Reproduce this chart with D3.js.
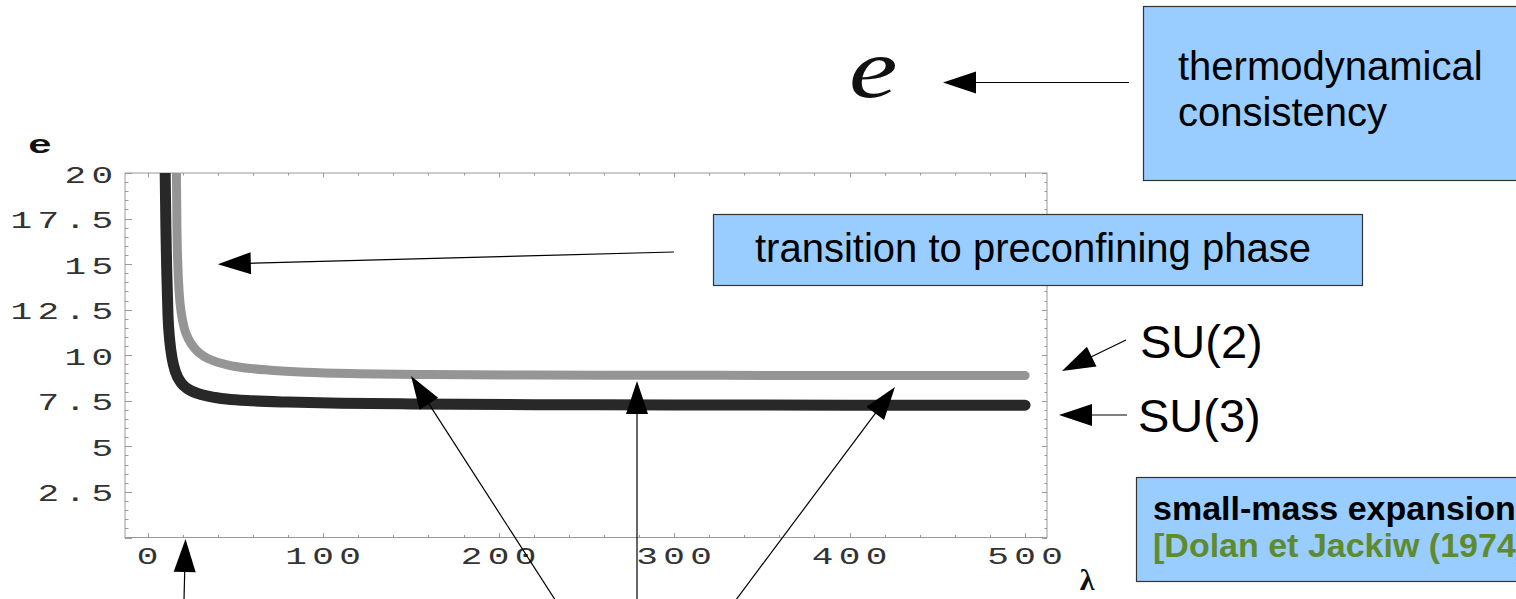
<!DOCTYPE html>
<html><head><meta charset="utf-8">
<script src="https://cdn.jsdelivr.net/npm/d3@7"></script>
<style>html,body{margin:0;padding:0;background:#fff;} svg{display:block;background:#fff}</style>
</head><body>
<svg id="c" width="1516" height="599"></svg>
<script>
// ---- data ----
const lambdaSU2 = [16.4, 16.7, 17.2, 18.0, 19.2, 21, 23.5, 27, 32, 38, 46, 56, 70, 90, 120, 160, 220, 300, 400, 500];
const eSU2      = [20, 17, 15, 13.4, 12.3, 11.45, 10.85, 10.35, 9.95, 9.68, 9.46, 9.3, 9.18, 9.07, 8.99, 8.94, 8.91, 8.9, 8.89, 8.89];
const lambdaSU3 = [10.0, 10.4, 10.9, 11.6, 12.6, 14, 16, 19, 23, 28, 35, 45, 60, 80, 110, 150, 220, 300, 400, 500];
const eSU3      = [20, 17, 14.6, 12.2, 10.8, 9.8, 9.05, 8.5, 8.15, 7.92, 7.75, 7.6, 7.5, 7.43, 7.37, 7.33, 7.29, 7.27, 7.26, 7.26];
const xTickValues = [0, 100, 200, 300, 400, 500];
const xTickLabels = ["0", "100", "200", "300", "400", "500"];
const yTickValues = [2.5, 5, 7.5, 10, 12.5, 15, 17.5, 20];
const yTickLabels = ["2.5", "5", "7.5", "10", "12.5", "15", "17.5", "20"];
const xDomain = [-12.9, 512.5];
const yDomain = [0, 20];

// ---- layout ----
const svg = d3.select("#c");
const L = 125, R = 1047, T = 173, B = 537.5;
const x = d3.scaleLinear().domain(xDomain).range([L, R]);
const y = d3.scaleLinear().domain(yDomain).range([B, T]);
const frameCol = "#9a9a9a";

svg.append("defs").append("clipPath").attr("id", "plotclip")
  .append("rect").attr("x", L).attr("y", T).attr("width", R - L).attr("height", B - T);

// frame
svg.append("rect").attr("x", L).attr("y", T).attr("width", R - L).attr("height", B - T)
  .attr("fill", "none").attr("stroke", frameCol).attr("stroke-width", 1);

// ticks
const tk = svg.append("g").attr("stroke", frameCol).attr("stroke-width", 1);
d3.range(0, 501, 20).forEach(v => {
  const major = v % 100 === 0;
  const len = major ? 4.5 : 2.5;
  const px = Math.round(x(v)) + 0.5;
  tk.append("line").attr("x1", px).attr("x2", px).attr("y1", B).attr("y2", B - len);
  tk.append("line").attr("x1", px).attr("x2", px).attr("y1", T).attr("y2", T + len);
});
d3.range(0, 20.01, 0.5).forEach(v => {
  const major = Math.abs(v / 2.5 - Math.round(v / 2.5)) < 1e-6;
  const py = Math.round(y(v)) + 0.5;
  tk.append("line").attr("x1", L).attr("x2", L + (major ? 7 : 3.5)).attr("y1", py).attr("y2", py);
  tk.append("line").attr("x1", R).attr("x2", R - (major ? 5 : 2.5)).attr("y1", py).attr("y2", py);
});

// tick labels (wide monospaced look)
const SX = 1.5, LS = 3.6;
const tlab = svg.append("g").attr("font-family", "Liberation Mono, DejaVu Sans Mono, monospace")
  .attr("font-size", 24).attr("fill", "#333");
xTickValues.forEach((v, i) => {
  tlab.append("text").attr("transform", `translate(${x(v)},563.5) scale(${SX},1)`)
    .attr("text-anchor", "middle").attr("letter-spacing", LS).attr("dx", LS / 2)
    .text(xTickLabels[i]);
});
yTickValues.forEach((v, i) => {
  tlab.append("text").attr("transform", `translate(113,${y(v) + 9.5}) scale(${SX},1)`)
    .attr("text-anchor", "end").attr("letter-spacing", LS).attr("dx", LS)
    .text(yTickLabels[i]);
});

// axis labels
svg.append("text").attr("transform", "translate(40,153) scale(1.6,1)").attr("text-anchor", "middle")
  .attr("font-family", "Liberation Mono, monospace").attr("font-weight", "bold").attr("font-size", 25)
  .attr("fill", "#111").text("e");
svg.append("text").attr("x", 1087).attr("y", 590).attr("text-anchor", "middle")
  .attr("font-family", "Liberation Serif, serif").attr("font-weight", "bold").attr("font-size", 30)
  .attr("fill", "#111").text("λ");

// curves
const line = d3.line().x(d => x(d[0])).y(d => y(d[1])).curve(d3.curveMonotoneX);
const cg = svg.append("g").attr("clip-path", "url(#plotclip)");
cg.append("path").datum(lambdaSU2.map((l, i) => [l, eSU2[i]]))
  .attr("d", line).attr("fill", "none").attr("stroke", "#959595").attr("stroke-width", 9)
  .attr("stroke-linecap", "round").attr("stroke-linejoin", "round");
cg.append("path").datum(lambdaSU3.map((l, i) => [l, eSU3[i]]))
  .attr("d", line).attr("fill", "none").attr("stroke", "#282828").attr("stroke-width", 11)
  .attr("stroke-linecap", "round").attr("stroke-linejoin", "round");

// ---- annotations ----
const ann = svg.append("g");
function arrow(x1, y1, x2, y2, HL = 33, HW = 22) {
  const dx = x2 - x1, dy = y2 - y1, d = Math.hypot(dx, dy), ux = dx / d, uy = dy / d;
  const bx = x2 - ux * HL, by = y2 - uy * HL;
  ann.append("line").attr("x1", x1).attr("y1", y1).attr("x2", bx + ux * 2).attr("y2", by + uy * 2)
    .attr("stroke", "#000").attr("stroke-width", 1.2);
  ann.append("path").attr("d", `M${x2},${y2}L${bx - uy * HW / 2},${by + ux * HW / 2}L${bx + uy * HW / 2},${by - ux * HW / 2}Z`)
    .attr("fill", "#000");
}
function box(x0, y0, w, h) {
  ann.append("rect").attr("x", x0 + 0.5).attr("y", y0 + 0.5).attr("width", w).attr("height", h)
    .attr("fill", "#99ccff").attr("stroke", "#333").attr("stroke-width", 1.2);
}
const sans = "Liberation Sans, Arial, sans-serif";

// thermodynamical consistency
box(1143, 6, 400, 174);
ann.append("text").attr("x", 1178).attr("y", 80).attr("font-family", sans).attr("font-size", 40).text("thermodynamical");
ann.append("text").attr("x", 1178).attr("y", 126).attr("font-family", sans).attr("font-size", 40).text("consistency");
arrow(1129, 82.5, 943, 82.5);
ann.append("text").attr("transform", "translate(849,97) scale(1.3,1)").attr("font-family", "Liberation Serif, serif")
  .attr("font-style", "italic").attr("font-size", 84).attr("fill", "#111").text("e");

// transition box
box(713, 214, 649, 71);
ann.append("text").attr("x", 755).attr("y", 262).attr("font-family", sans).attr("font-size", 40).text("transition to preconfining phase");
arrow(674, 252, x(40), y(15));

// SU labels
ann.append("text").attr("x", 1140).attr("y", 358).attr("font-family", sans).attr("font-size", 47).text("SU(2)");
ann.append("text").attr("x", 1138).attr("y", 432).attr("font-family", sans).attr("font-size", 47).text("SU(3)");
arrow(1126, 340, 1062, 371);
arrow(1127, 415, 1059, 415);

// small-mass box (cut by the right edge, as in the reference)
box(1136, 477, 420, 104);
ann.append("text").attr("x", 1153).attr("y", 520).attr("font-family", sans).attr("font-weight", "bold")
  .attr("font-size", 34).attr("fill", "#000").text("small-mass expansion");
ann.append("text").attr("x", 1153).attr("y", 557).attr("font-family", sans).attr("font-weight", "bold")
  .attr("font-size", 34).attr("fill", "#5f8b2e").text("[Dolan et Jackiw (1974)]");

// bottom arrows
arrow(183, 640, 185.5, 539);
arrow(581, 640, 411, 376);
arrow(637, 640, 637, 381);
arrow(706, 640, 895, 387);
</script>
</body></html>
